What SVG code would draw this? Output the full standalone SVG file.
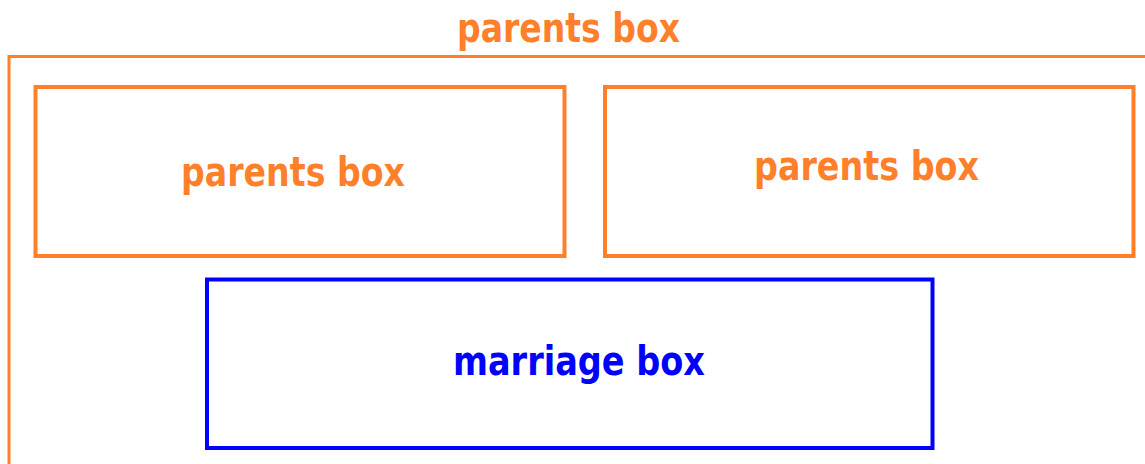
<svg xmlns="http://www.w3.org/2000/svg" width="1145" height="464" viewBox="0 0 1145 464">
  <style>
    .parents { fill: none; stroke: #ff7f2a; stroke-width: 4; }
    .outer { fill: none; stroke: #ff7f2a; stroke-width: 3; }
    .marriage { fill: none; stroke: #0000ff; stroke-width: 4; }
    .lbl { font-family: "DejaVu Sans", Verdana, sans-serif; font-weight: bold; font-size: 40px; }
    .orange { fill: #ff7f2a; }
    .blue { fill: #0000ff; }
  </style>
  <rect width="1145" height="464" fill="#ffffff"/>

  <!-- outer parents box, running off the right and bottom edges -->
  <g id="outer-parents">
    <rect class="outer" x="9" y="56.5" width="1160" height="430"/>
    <text class="lbl orange" x="457" y="42" textLength="223" lengthAdjust="spacingAndGlyphs">parents box</text>
  </g>

  <g id="parents-left">
    <rect class="parents" x="35.5" y="87" width="529" height="169"/>
    <text class="lbl orange" x="181" y="186" textLength="224" lengthAdjust="spacingAndGlyphs">parents box</text>
  </g>

  <g id="parents-right">
    <rect class="parents" x="605" y="87" width="528.5" height="169"/>
    <text class="lbl orange" x="754" y="180" textLength="225" lengthAdjust="spacingAndGlyphs">parents box</text>
  </g>

  <g id="marriage">
    <rect class="marriage" x="207" y="279.5" width="725.5" height="168.5"/>
    <text class="lbl blue" x="453" y="375" textLength="252" lengthAdjust="spacingAndGlyphs">marriage box</text>
  </g>

  <g id="connectors"/>
</svg>
